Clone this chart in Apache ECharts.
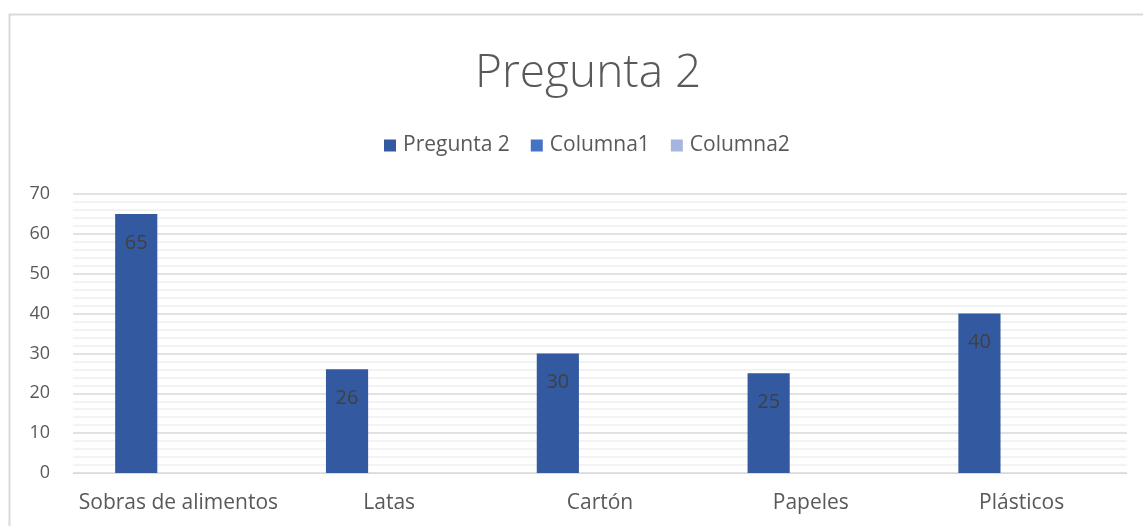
<!DOCTYPE html>
<html><head><meta charset="utf-8">
<script src="https://cdn.jsdelivr.net/npm/echarts@6/dist/echarts.min.js"></script>
<style>html,body{margin:0;padding:0;background:#fff}#c{width:1143px;height:526px}</style>
</head><body><div id="c"></div>
<script>
const categories = ['Sobras de alimentos', 'Latas', 'Cartón', 'Papeles', 'Plásticos'];
const pregunta2 = [65, 26, 30, 25, 40];
const columna1 = ['-', '-', '-', '-', '-'];
const columna2 = ['-', '-', '-', '-', '-'];
const seriesNames = ['Pregunta 2', 'Columna1', 'Columna2'];
const yTicks = [0, 10, 20, 30, 40, 50, 60, 70];

const font = "'Open Sans', 'Noto Sans', sans-serif";
const chart = echarts.init(document.getElementById('c'), null, {renderer: 'canvas'});
chart.setOption({
  animation: false,
  backgroundColor: '#fff',
  graphic: [{type: 'rect', shape: {x: 9.5, y: 14.5, width: 1200, height: 600}, style: {fill: 'none', stroke: '#d9d9d9', lineWidth: 2}, silent: true}],
  title: {text: 'Pregunta 2', left: 470, top: 46, textStyle: {fontFamily: font, fontWeight: 300, fontSize: 46, color: '#595959'}},
  legend: {
    top: 130, left: 379, itemWidth: 12, itemHeight: 12, itemGap: 21,
    icon: 'rect',
    textStyle: {fontFamily: font, fontSize: 21, color: '#595959', padding: [0, 0, 0, 2]},
    data: seriesNames
  },
  grid: {left: 73, right: 16, top: 194, bottom: 53, containLabel: false},
  xAxis: {
    type: 'category', data: categories,
    axisLine: {lineStyle: {color: '#d9d9d9', width: 1}},
    axisTick: {show: false},
    axisLabel: {interval: 0, fontFamily: font, fontSize: 21, color: '#595959', margin: 20}
  },
  yAxis: {
    type: 'value', min: yTicks[0], max: yTicks[yTicks.length - 1], interval: 10,
    axisLine: {show: false}, axisTick: {show: false},
    axisLabel: {fontFamily: font, fontSize: 18, color: '#595959', margin: 23},
    splitLine: {lineStyle: {color: '#d9d9d9', width: 1.5}},
    minorTick: {show: false, splitNumber: 5},
    minorSplitLine: {show: true, lineStyle: {color: '#efefef', width: 1.5}}
  },
  series: [
    {name: seriesNames[0], type: 'bar', data: pregunta2, barGap: '0%', barCategoryGap: '40%',
     itemStyle: {color: '#335AA1'},
     label: {show: true, position: 'insideTop', distance: 19, fontFamily: font, fontSize: 20, color: '#404040'}},
    {name: seriesNames[1], type: 'bar', data: columna1, barGap: '0%', barCategoryGap: '40%', itemStyle: {color: '#4472C4'}},
    {name: seriesNames[2], type: 'bar', data: columna2, barGap: '0%', barCategoryGap: '40%', itemStyle: {color: '#A5B5DE'}}
  ]
});
</script></body></html>
